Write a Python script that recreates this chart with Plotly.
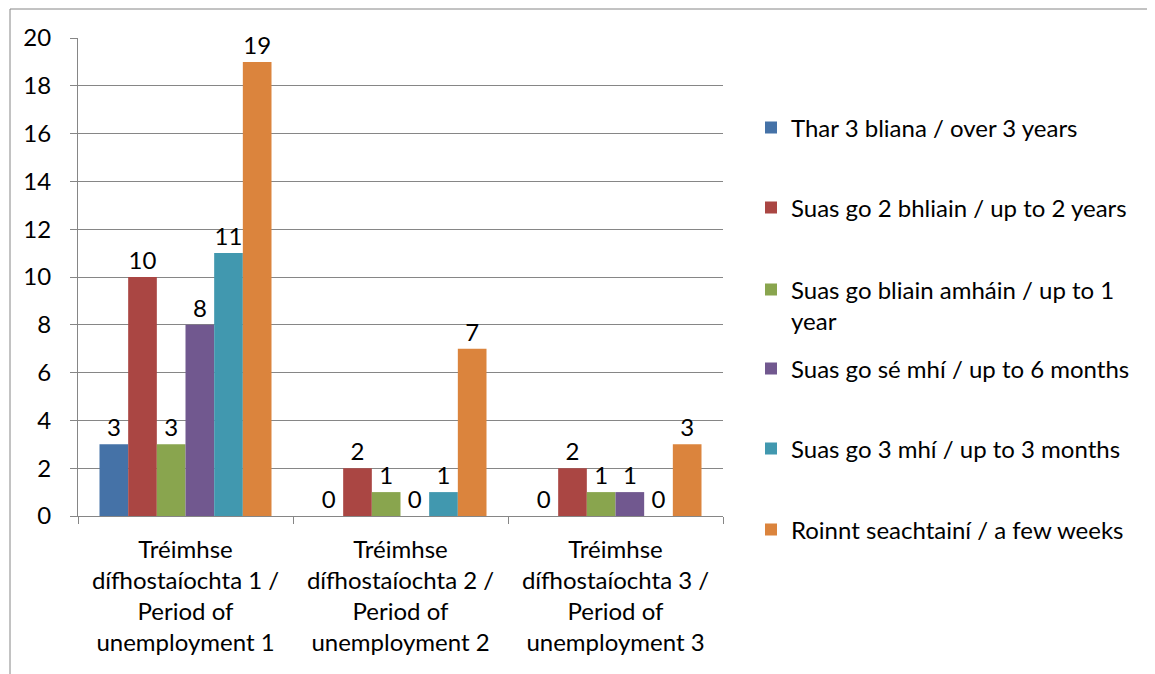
import plotly.graph_objects as go

categories = ["Period 1", "Period 2", "Period 3"]
tick_labels = [
    "Tréimhse<br>dífhostaíochta 1 /<br>Period of<br>unemployment 1",
    "Tréimhse<br>dífhostaíochta 2 /<br>Period of<br>unemployment 2",
    "Tréimhse<br>dífhostaíochta 3 /<br>Period of<br>unemployment 3",
]
series_names = [
    "Thar 3 bliana / over 3 years",
    "Suas go 2 bhliain / up to 2 years",
    "Suas go bliain amháin / up to 1<br>year",
    "Suas go sé mhí / up to 6 months",
    "Suas go 3 mhí / up to 3 months",
    "Roinnt seachtainí / a few weeks",
]
over_3_years = [3, 0, 0]
up_to_2_years = [10, 2, 2]
up_to_1_year = [3, 1, 1]
up_to_6_months = [8, 0, 1]
up_to_3_months = [11, 1, 0]
few_weeks = [19, 7, 3]
series_values = [over_3_years, up_to_2_years, up_to_1_year,
                 up_to_6_months, up_to_3_months, few_weeks]
colors = ["#4572A7", "#AA4643", "#89A54E", "#71588F", "#4198AF", "#DB843D"]

FONT = "Lato, 'Open Sans', sans-serif"
FS = 24

OFF = 8  # page body margin
W, H = 1155 - OFF, 674 - OFF
# target plot area in page pixels: x 78..723, y 38..516
L, T = 78 - OFF, 38 - OFF
R = W - (723 - OFF)
B = H - (516 - OFF)
pw, ph = W - L - R, H - T - B

def px_x(x):
    return (x - OFF - L) / pw

def px_y(y):
    return (516 - y) / ph

legend_centers = [128, 208, 305.5, 369, 449, 530]

fig = go.Figure()
for i, (name, vals, col) in enumerate(zip(series_names, series_values, colors)):
    lg = "legend" if i == 0 else f"legend{i+1}"
    fig.add_trace(go.Bar(
        x=categories, y=vals, name=name, marker=dict(color=col, line=dict(width=0)),
        text=vals, textposition="outside", cliponaxis=False,
        textfont=dict(family=FONT, size=FS, color="black"),
        legend=lg,
    ))

legends = {}
for i, yc in enumerate(legend_centers):
    key = "legend" if i == 0 else f"legend{i+1}"
    legends[key] = dict(
        x=px_x(751), xanchor="left", y=px_y(yc), yanchor="middle",
        bgcolor="rgba(0,0,0,0)", borderwidth=0,
        font=dict(family=FONT, size=FS, color="black"),
        valign="top", tracegroupgap=0,
    )

fig.update_layout(
    width=W, height=H,
    margin=dict(l=L, r=R, t=T, b=B, autoexpand=False),
    paper_bgcolor="white", plot_bgcolor="white",
    barmode="group", bargap=0.2, bargroupgap=0,
    font=dict(family=FONT, size=FS, color="black"),
    showlegend=True,
    **legends,
)
fig.update_xaxes(
    tickmode="array", tickvals=categories, ticktext=tick_labels,
    range=[-0.5, 2.5], tickson="boundaries", ticks="outside", ticklen=7,
    tickcolor="#868686", showline=True, linecolor="#868686", linewidth=1,
    showgrid=False, tickfont=dict(family=FONT, size=FS, color="black"),
    ticklabelstandoff=12,
)
fig.update_yaxes(
    range=[0, 20], dtick=2, tick0=0, ticks="outside", ticklen=7,
    tickcolor="#868686", showline=True, linecolor="#868686", linewidth=1,
    showgrid=True, gridcolor="#868686", gridwidth=1, zeroline=False,
    tickfont=dict(family=FONT, size=FS, color="black"), ticklabelstandoff=14,
)
fig.add_shape(type="rect", xref="paper", yref="paper",
              x0=px_x(10), x1=px_x(1175), y0=px_y(700), y1=px_y(9),
              line=dict(color="#868686", width=1), fillcolor="rgba(0,0,0,0)",
              layer="below")
fig.write_html("out.html")
